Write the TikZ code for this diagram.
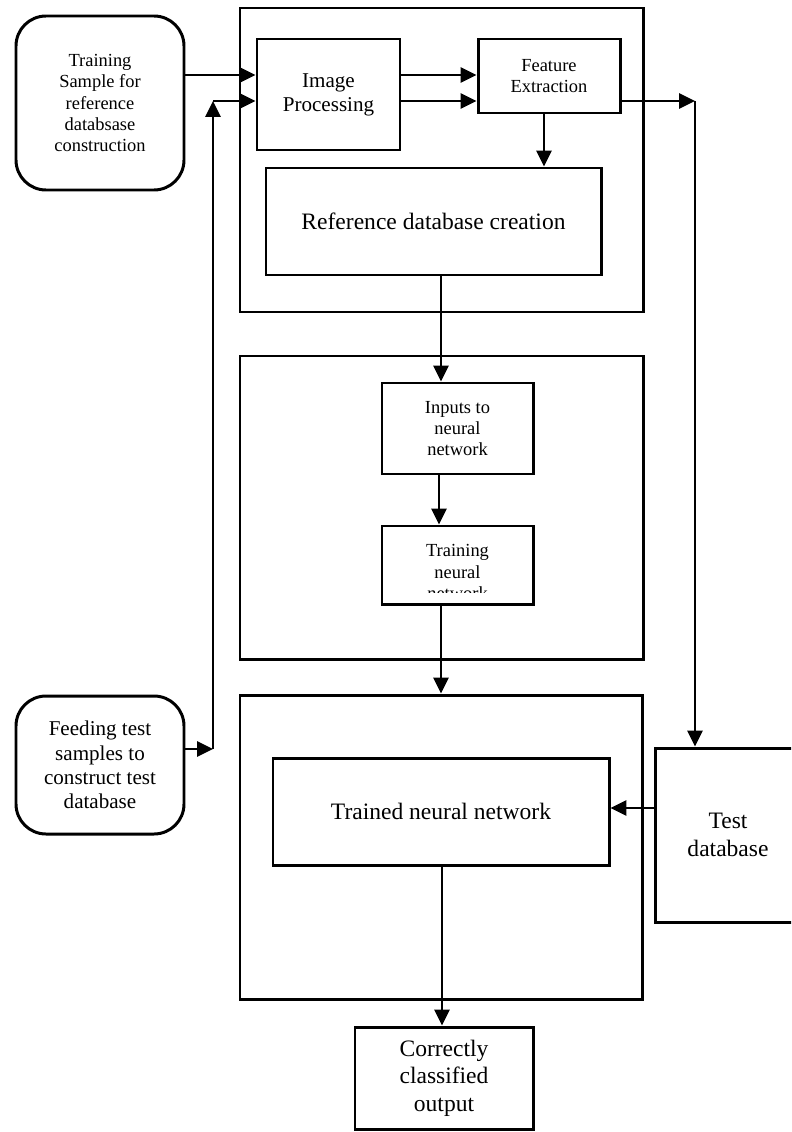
\documentclass[tikz,border=0pt]{standalone}
\usepackage{fontspec}
\setmainfont{Liberation Serif}
\usetikzlibrary{arrows.meta}

\tikzset{
  box/.style={draw, line width=1.7pt, rectangle, inner sep=0pt, align=center},
  roundbox/.style={box, rounded corners=0.6cm},
  frame/.style={draw, line width=1.7pt, rectangle, inner sep=0pt},
  arr/.style={line width=1.6pt, -{Triangle[length=9pt,width=8.5pt]}},
  fsmall/.style={font=\fontsize{10.5}{12.2}\selectfont},
  fmid/.style={font=\fontsize{12}{13.8}\selectfont},
  flarge/.style={font=\fontsize{13.4}{15.6}\selectfont},
}

\begin{document}
\begin{tikzpicture}[x=0.02cm, y=-0.02cm]
  \path[use as bounding box] (0,0) rectangle (791,1132);
  \clip (0,0) rectangle (791,1132);

  % outer stage frames
  \node[frame, minimum width=403*0.02cm, minimum height=304*0.02cm] (stageA) at (441.5,160) {};
  \node[frame, minimum width=403*0.02cm, minimum height=303*0.02cm] (stageB) at (441.5,507.5) {};
  \node[frame, minimum width=402*0.02cm, minimum height=304*0.02cm] (stageC) at (441,847) {};

  % input boxes on the left
  \node[roundbox, fsmall, minimum width=168*0.02cm, minimum height=174*0.02cm] (train) at (100,103)
    {Training\\Sample for\\reference\\databsase\\construction};
  \node[roundbox, fmid, minimum width=168*0.02cm, minimum height=138*0.02cm] (feed) at (100,765)
    {Feeding test\\samples to\\construct test\\database};

  % first stage
  \node[box, fmid, minimum width=143*0.02cm, minimum height=111*0.02cm] (imgp) at (328.5,94.5)
    {Image\\Processing};
  \node[box, fsmall, minimum width=142*0.02cm, minimum height=74*0.02cm] (feat) at (549,76)
    {Feature\\Extraction};
  \node[box, flarge, minimum width=335*0.02cm, minimum height=107*0.02cm] (refdb) at (433.5,221.5)
    {Reference database creation};

  % second stage
  \node[box, fsmall, minimum width=151*0.02cm, minimum height=91*0.02cm] (inputs) at (457.5,428.5)
    {Inputs to\\neural\\network};
  \node[box, minimum width=151*0.02cm, minimum height=78*0.02cm] (trainnn) at (457.5,565) {};
  % the label overflows its box and is cut off at the inner text area
  \begin{scope}
    \clip (383,527) rectangle (532,592);
    \node[fsmall, align=center] at (457.5,572) {Training\\neural\\network};
  \end{scope}

  % third stage
  \node[box, flarge, minimum width=336*0.02cm, minimum height=107*0.02cm] (trained) at (441,811.5)
    {Trained neural network};
  \node[box, flarge, minimum width=146*0.02cm, minimum height=174*0.02cm] (testdb) at (728,835)
    {Test\\database};
  \node[box, flarge, minimum width=178*0.02cm, minimum height=102*0.02cm] (output) at (444,1078)
    {Correctly\\classified\\output};

  % helper coordinates for connector rows and columns
  \coordinate (rowA) at (0,75);
  \coordinate (rowB) at (0,101);
  \coordinate (rowF) at (0,749);
  \coordinate (rowT) at (0,808);
  \coordinate (colR) at (695,0);
  \coordinate (colF) at (544,0);
  \coordinate (colM) at (441,0);
  \coordinate (colN) at (439,0);
  \coordinate (colO) at (442,0);
  \coordinate (jL) at (213,749);
  \coordinate (jLt) at (213,101);
  \coordinate (jR) at (695,101);

  % training sample into image processing
  \draw[arr] (train.east |- rowA) -- (imgp.west |- rowA);

  % test samples routed up into image processing
  \draw[arr] (feed.east |- rowF) -- (jL);
  \draw[arr] (jL) -- (jLt);
  \draw[arr] (jLt) -- (imgp.west |- rowB);

  % image processing to feature extraction
  \draw[arr] (imgp.east |- rowA) -- (feat.west |- rowA);
  \draw[arr] (imgp.east |- rowB) -- (feat.west |- rowB);

  % feature extraction out to the test database
  \draw[arr] (feat.east |- rowB) -- (jR);
  \draw[arr] (jR) -- (colR |- testdb.north);

  % feature extraction down to the reference database
  \draw[arr] (colF |- feat.south) -- (colF |- refdb.north);

  % stage-to-stage flow
  \draw[arr] (colM |- refdb.south) -- (colM |- inputs.north);
  \draw[arr] (colN |- inputs.south) -- (colN |- trainnn.north);
  \draw[arr] (colM |- trainnn.south) -- (colM |- stageC.north);
  \draw[arr] (testdb.west |- rowT) -- (trained.east |- rowT);
  \draw[arr] (colO |- trained.south) -- (colO |- output.north);
\end{tikzpicture}
\end{document}
